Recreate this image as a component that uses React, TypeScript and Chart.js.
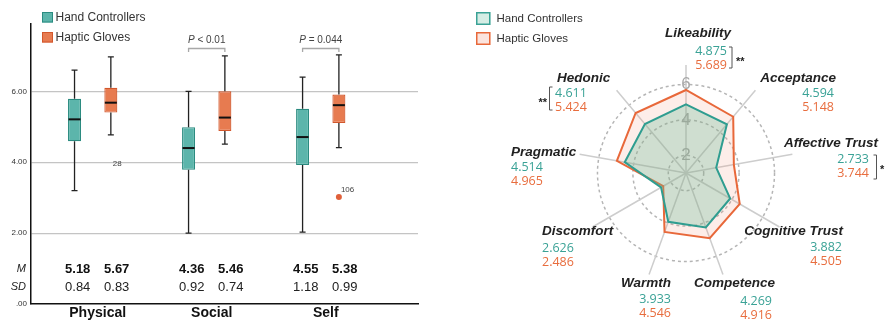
import React, { useEffect, useRef } from 'react';
import { Chart, registerables } from 'chart.js';

Chart.register(...registerables);

const FONT = '"Liberation Sans", Arial, sans-serif';
const VFONT = '"Open Sans", "Noto Sans", sans-serif';

// ---------- Box plot data ----------
const categories = ['Physical', 'Social', 'Self'];
const seriesNames = ['Hand Controllers', 'Haptic Gloves'];
const hcWhiskerLow = [3.2, 2.0, 2.03];
const hcQ1 = [4.59, 3.79, 3.92];
const hcMedian = [5.21, 4.4, 4.71];
const hcQ3 = [5.79, 4.99, 5.51];
const hcWhiskerHigh = [6.6, 6.0, 6.4];
const hgWhiskerLow = [4.77, 4.51, 4.41];
const hgQ1 = [5.4, 4.88, 5.11];
const hgMedian = [5.68, 5.26, 5.61];
const hgQ3 = [6.1, 6.0, 5.91];
const hgWhiskerHigh = [6.97, 7.0, 7.03];
const hcMean = ['5.18', '4.36', '4.55'];
const hgMean = ['5.67', '5.46', '5.38'];
const hcSD = ['0.84', '0.92', '1.18'];
const hgSD = ['0.83', '0.74', '0.99'];
const outliers = [
  { category: 0, series: 1, value: 3.77, id: '28', marker: false },
  { category: 2, series: 1, value: 3.02, id: '106', marker: true },
];
const significance = [
  { category: 1, text: 'P < 0.01' },
  { category: 2, text: 'P = 0.044' },
];
const yTickValues = [0, 2, 4, 6];
const yTickLabels = ['.00', '2.00', '4.00', '6.00'];

// ---------- Radar data ----------
const radarLabels = ['Likeability', 'Acceptance', 'Affective Trust', 'Cognitive Trust', 'Competence', 'Warmth', 'Discomfort', 'Pragmatic', 'Hedonic'];
const hcRadar = [4.875, 4.594, 2.733, 3.882, 4.269, 3.933, 2.626, 4.514, 4.611];
const hgRadar = [5.689, 5.148, 3.744, 4.505, 4.916, 4.546, 2.486, 4.965, 5.424];
const radarTicks = [2, 4, 6];
const radarSig = ['**', '', '*', '', '', '', '', '', '**'];

// ---------- Styles ----------
const HC_FILL = '#5cb5ab';
const HC_BORDER = '#2b8b80';
const HG_FILL = '#e77b50';
const HG_BORDER = '#d2572c';
const TEAL_TEXT = '#3aa296';
const ORANGE_TEXT = '#e86d3e';

// label layout offsets from the radar centre (style only)
const radarLabelLayout: any[] = [
  { align: 'right', nx: 45, ny: -140, vx: 41, vy: -122, sig: { side: 'right', bx: 46, top: -126, bottom: -105, sx: 50, sy: -115 } },
  { align: 'right', nx: 150, ny: -95, vx: 148, vy: -80 },
  { align: 'right', nx: 192, ny: -30, vx: 183, vy: -14, sig: { side: 'right', bx: 190.5, top: -18, bottom: 6, sx: 194, sy: -7 } },
  { align: 'right', nx: 157, ny: 58, vx: 156, vy: 74 },
  { align: 'right', nx: 89, ny: 110, vx: 86, vy: 128 },
  { align: 'right', nx: -15, ny: 110, vx: -15, vy: 126 },
  { align: 'left', nx: -144, ny: 58, vx: -144, vy: 75 },
  { align: 'left', nx: -175, ny: -21, vx: -175, vy: -6 },
  { align: 'left', nx: -129, ny: -95, vx: -131, vy: -80, sig: { side: 'left', bx: -136.5, top: -86, bottom: -63, sx: -139, sy: -74 } },
];

const leftPlugin = {
  id: 'leftExtras',
  afterDatasetsDraw(chart: any) {
    const { ctx } = chart;
    const y = chart.scales.y;
    const stats = [
      { lo: hcWhiskerLow, med: hcMedian, hi: hcWhiskerHigh },
      { lo: hgWhiskerLow, med: hgMedian, hi: hgWhiskerHigh },
    ];
    ctx.save();
    stats.forEach((s, di) => {
      const meta = chart.getDatasetMeta(di);
      meta.data.forEach((bar: any, i: number) => {
        const p = bar.getProps(['x', 'y', 'base', 'width'], true);
        const top = Math.min(p.y, p.base);
        const bottom = Math.max(p.y, p.base);
        const yHi = y.getPixelForValue(s.hi[i]);
        const yLo = y.getPixelForValue(s.lo[i]);
        const yMed = y.getPixelForValue(s.med[i]);
        ctx.strokeStyle = '#222';
        ctx.lineWidth = 1.3;
        ctx.beginPath();
        ctx.moveTo(p.x, top); ctx.lineTo(p.x, yHi);
        ctx.moveTo(p.x - 3, yHi); ctx.lineTo(p.x + 3, yHi);
        ctx.moveTo(p.x, bottom); ctx.lineTo(p.x, yLo);
        ctx.moveTo(p.x - 3, yLo); ctx.lineTo(p.x + 3, yLo);
        ctx.stroke();
        ctx.lineWidth = 2;
        ctx.strokeStyle = '#111';
        ctx.beginPath();
        ctx.moveTo(p.x - p.width / 2 + 0.5, yMed); ctx.lineTo(p.x + p.width / 2 - 0.5, yMed);
        ctx.stroke();
      });
    });
    outliers.forEach((o) => {
      const bar = chart.getDatasetMeta(o.series).data[o.category];
      const px = bar.x;
      const py = y.getPixelForValue(o.value);
      if (o.marker) {
        ctx.fillStyle = '#e0603a';
        ctx.beginPath();
        ctx.arc(px, py, 3, 0, Math.PI * 2);
        ctx.fill();
      }
      ctx.fillStyle = '#444';
      ctx.font = `8px ${FONT}`;
      ctx.textAlign = 'left';
      ctx.textBaseline = 'middle';
      ctx.fillText(o.id, px + 2, py - 7);
    });
    ctx.restore();
  },
  afterDraw(chart: any) {
    const { ctx, chartArea } = chart;
    const x = chart.scales.x;
    ctx.save();
    // legend
    const legendItems = [
      { fill: HC_FILL, border: HC_BORDER, y: 12 },
      { fill: HG_FILL, border: HG_BORDER, y: 32 },
    ];
    legendItems.forEach((it, i) => {
      ctx.fillStyle = it.fill;
      ctx.fillRect(42, it.y, 11, 10.5);
      ctx.strokeStyle = it.border;
      ctx.lineWidth = 1;
      ctx.strokeRect(42.5, it.y + 0.5, 10, 9.5);
      ctx.fillStyle = '#333';
      ctx.font = `12px ${FONT}`;
      ctx.textAlign = 'left';
      ctx.textBaseline = 'middle';
      ctx.fillText(seriesNames[i], 55.5, it.y + 5.5);
    });
    // M / SD rows
    const mY = chartArea.bottom - 35;
    const sdY = chartArea.bottom - 17;
    ctx.fillStyle = '#222';
    ctx.font = `italic 11px ${FONT}`;
    ctx.textAlign = 'right';
    ctx.textBaseline = 'middle';
    ctx.fillText('M', 26, mY);
    ctx.fillText('SD', 26, sdY);
    ctx.textAlign = 'center';
    categories.forEach((_, i) => {
      const cx = x.getPixelForValue(i) + 4.5;
      ctx.font = `bold 13px ${FONT}`;
      ctx.fillStyle = '#111';
      ctx.fillText(hcMean[i], cx - 19.5, mY);
      ctx.fillText(hgMean[i], cx + 19.5, mY);
      ctx.font = `13px ${FONT}`;
      ctx.fillStyle = '#222';
      ctx.fillText(hcSD[i], cx - 19.5, sdY);
      ctx.fillText(hgSD[i], cx + 19.5, sdY);
    });
    // significance brackets
    significance.forEach((s) => {
      const x0 = chart.getDatasetMeta(0).data[s.category].x;
      const x1 = chart.getDatasetMeta(1).data[s.category].x;
      const by = chartArea.top + 24.5;
      ctx.strokeStyle = '#a8a8a8';
      ctx.lineWidth = 1.3;
      ctx.beginPath();
      ctx.moveTo(x0, by + 3.5); ctx.lineTo(x0, by); ctx.lineTo(x1, by); ctx.lineTo(x1, by + 3.5);
      ctx.stroke();
      const first = s.text.charAt(0);
      const rest = s.text.slice(1);
      ctx.font = `italic 10px ${FONT}`;
      const w1 = ctx.measureText(first).width;
      ctx.font = `10px ${FONT}`;
      const w2 = ctx.measureText(rest).width;
      const start = (x0 + x1) / 2 - (w1 + w2) / 2;
      const ty = chartArea.top + 16.5;
      ctx.fillStyle = '#444';
      ctx.textAlign = 'left';
      ctx.textBaseline = 'middle';
      ctx.font = `italic 10px ${FONT}`;
      ctx.fillText(first, start, ty);
      ctx.font = `10px ${FONT}`;
      ctx.fillText(rest, start + w1, ty);
    });
    ctx.restore();
  },
};

const radarPlugin = {
  id: 'radarExtras',
  afterDraw(chart: any) {
    const { ctx } = chart;
    const r = chart.scales.r;
    const cx = r.xCenter;
    const cy = r.yCenter;
    ctx.save();
    // legend
    const legendItems = [
      { fill: '#d5ede5', border: '#3aa296', y: 12 },
      { fill: '#fbe4de', border: '#e8683a', y: 32 },
    ];
    legendItems.forEach((it, i) => {
      ctx.fillStyle = it.fill;
      ctx.fillRect(36, it.y, 14.5, 13);
      ctx.strokeStyle = it.border;
      ctx.lineWidth = 1.5;
      ctx.strokeRect(36.75, it.y + 0.75, 13, 11.5);
      ctx.fillStyle = '#333';
      ctx.font = `11.5px ${FONT}`;
      ctx.textAlign = 'left';
      ctx.textBaseline = 'middle';
      ctx.fillText(seriesNames[i], 56.5, it.y + 7);
    });
    radarLabels.forEach((name, i) => {
      const L = radarLabelLayout[i];
      ctx.textAlign = L.align;
      ctx.textBaseline = 'middle';
      ctx.fillStyle = '#222';
      ctx.font = `italic bold 13.5px ${FONT}`;
      ctx.fillText(name, cx + L.nx, cy + L.ny);
      ctx.font = `12.5px ${VFONT}`;
      ctx.fillStyle = TEAL_TEXT;
      ctx.fillText(hcRadar[i].toFixed(3), cx + L.vx, cy + L.vy);
      ctx.fillStyle = ORANGE_TEXT;
      ctx.fillText(hgRadar[i].toFixed(3), cx + L.vx, cy + L.vy + 14);
      if (radarSig[i] && L.sig) {
        const s = L.sig;
        const dir = s.side === 'right' ? -1 : 1;
        const bx = cx + s.bx;
        ctx.strokeStyle = '#555';
        ctx.lineWidth = 1;
        ctx.beginPath();
        ctx.moveTo(bx + dir * 3, cy + s.top);
        ctx.lineTo(bx, cy + s.top);
        ctx.lineTo(bx, cy + s.bottom);
        ctx.lineTo(bx + dir * 3, cy + s.bottom);
        ctx.stroke();
        ctx.fillStyle = '#222';
        ctx.font = `bold 11px ${FONT}`;
        ctx.textAlign = s.side === 'right' ? 'left' : 'right';
        ctx.textBaseline = 'alphabetic';
        ctx.fillText(radarSig[i], cx + s.sx, cy + s.sy + 6.5);
      }
    });
    ctx.restore();
  },
};

function BoxChart() {
  const ref = useRef<HTMLCanvasElement>(null);
  useEffect(() => {
    if (!ref.current) return;
    const chart = new Chart(ref.current, {
      type: 'bar',
      data: {
        datasets: [
          {
            label: seriesNames[0],
            data: categories.map((_, i) => ({ x: i, y: [hcQ1[i], hcQ3[i]] })) as any,
            backgroundColor: HC_FILL,
            borderColor: HC_BORDER,
            borderWidth: 1.2,
            borderSkipped: false,
            categoryPercentage: 0.637,
            barPercentage: 0.358,
          },
          {
            label: seriesNames[1],
            data: categories.map((_, i) => ({ x: i, y: [hgQ1[i], hgQ3[i]] })) as any,
            backgroundColor: HG_FILL,
            borderColor: HG_BORDER,
            borderWidth: 1.2,
            borderSkipped: false,
            categoryPercentage: 0.637,
            barPercentage: 0.358,
          },
        ],
      },
      options: {
        responsive: false,
        animation: false,
        events: [],
        layout: { padding: { top: 24, right: 22, left: 0, bottom: 0 } },
        plugins: { legend: { display: false }, tooltip: { enabled: false } },
        scales: {
          x: {
            type: 'linear',
            min: -0.541,
            max: 2.853,
            offset: false,
            afterBuildTicks: (s: any) => { s.ticks = categories.map((_, i) => ({ value: i })); },
            afterFit: (s: any) => { s.height = 21; },
            grid: { display: false, offset: false, drawTicks: false },
            border: { display: true, color: '#111', width: 1.5 },
            ticks: {
              callback: (v: any) => categories[v] ?? '',
              font: { family: FONT, size: 14, weight: 'bold' },
              color: '#111',
              padding: 1,
              labelOffset: 5,
              maxRotation: 0,
              autoSkip: false,
            },
          },
          y: {
            min: 0,
            max: 7.9,
            afterBuildTicks: (s: any) => { s.ticks = yTickValues.map((v) => ({ value: v })); },
            afterFit: (s: any) => { s.width = 31; },
            grid: {
              drawTicks: false,
              color: (c: any) => (c.tick && c.tick.value === 0 ? 'rgba(0,0,0,0)' : '#c4c4c4'),
              lineWidth: 1.2,
            },
            border: { display: true, color: '#111', width: 1.5 },
            ticks: {
              callback: (v: any) => yTickLabels[yTickValues.indexOf(v)] ?? '',
              font: { family: FONT, size: 8 },
              color: '#333',
              padding: 4,
            },
          },
        },
      } as any,
      plugins: [leftPlugin],
    });
    return () => chart.destroy();
  }, []);
  return <canvas ref={ref} width={440} height={325} style={{ position: 'absolute', left: 0, top: 0 }} />;
}

function RadarChart() {
  const ref = useRef<HTMLCanvasElement>(null);
  useEffect(() => {
    if (!ref.current) return;
    const chart = new Chart(ref.current, {
      type: 'radar',
      data: {
        labels: radarLabels,
        datasets: [
          {
            label: seriesNames[0],
            data: hcRadar,
            borderColor: '#2f9d90',
            backgroundColor: 'rgba(100,185,150,0.3)',
            borderWidth: 2,
            pointRadius: 0,
            fill: true,
          },
          {
            label: seriesNames[1],
            data: hgRadar,
            borderColor: '#e8683a',
            backgroundColor: 'rgba(240,140,120,0.16)',
            borderWidth: 2,
            pointRadius: 0,
            fill: true,
          },
        ],
      },
      options: {
        responsive: false,
        animation: false,
        events: [],
        layout: { padding: { top: 54.5, left: 127.5, right: 80.5, bottom: 33.5 } },
        plugins: { legend: { display: false }, tooltip: { enabled: false } },
        scales: {
          r: {
            min: 1,
            max: 7.1,
            afterBuildTicks: (s: any) => { s.ticks = [1, ...radarTicks].map((v) => ({ value: v })); },
            grid: { circular: true, color: '#b5b5b5', lineWidth: 1.5 },
            border: { dash: [3, 3] },
            angleLines: { display: true, color: '#cdcdcd', lineWidth: 1.5 },
            pointLabels: { display: false },
            ticks: {
              display: true,
              showLabelBackdrop: false,
              backdropPadding: 2,
              color: '#a8a8a8',
              font: { family: FONT, size: 17 },
              callback: (v: any) => String(v),
            },
          },
        },
      } as any,
      plugins: [radarPlugin],
    });
    return () => chart.destroy();
  }, []);
  return <canvas ref={ref} width={445} height={325} style={{ position: 'absolute', left: 440, top: 0 }} />;
}

export default function App() {
  return (
    <div style={{ position: 'absolute', left: 0, top: 0, width: 885, height: 325, background: '#fff', overflow: 'hidden' }}>
      <BoxChart />
      <RadarChart />
    </div>
  );
}
